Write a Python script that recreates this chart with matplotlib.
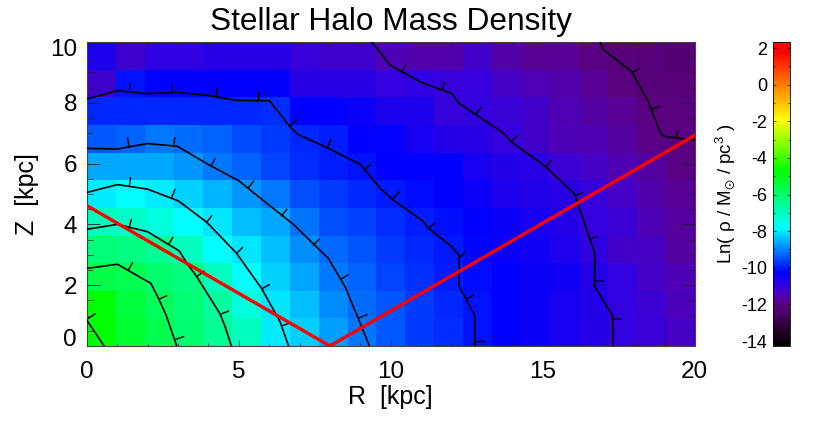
import matplotlib
matplotlib.use("Agg")
import matplotlib.pyplot as plt
import numpy as np
from matplotlib.colors import LinearSegmentedColormap, Normalize
from matplotlib.ticker import MultipleLocator
from matplotlib.transforms import ScaledTranslation

plt.rcParams["font.family"] = ["Liberation Sans", "DejaVu Sans"]
plt.rcParams["axes.unicode_minus"] = False
plt.rcParams["mathtext.fontset"] = "custom"
plt.rcParams["mathtext.rm"] = "Liberation Sans"
plt.rcParams["mathtext.it"] = "Liberation Sans"
plt.rcParams["mathtext.fallback"] = "stixsans"

VMIN = -14.27
VMAX = 2.33

# Ln density on the 1 kpc grid, one row per Z = 0..10, R = 0..20
row_z0 = [-4.7, -5.3, -5.67, -6.04, -6.52, -7.01, -7.95, -8.25, -8.71, -9.1, -9.39, -9.67, -9.82, -10.06, -10.25, -10.4, -10.6, -10.8, -11.0, -11.1, -11.3]
row_z1 = [-4.8, -5.43, -5.79, -6.16, -6.65, -7.37, -8.04, -8.42, -8.9, -9.19, -9.43, -9.67, -9.87, -10.06, -10.25, -10.4, -10.6, -10.75, -11.0, -11.15, -11.4]
row_z2 = [-5.55, -5.67, -6.04, -6.28, -7.01, -7.8, -8.23, -8.66, -9.1, -9.29, -9.58, -9.77, -9.96, -10.15, -10.25, -10.4, -10.5, -10.8, -11.0, -11.3, -11.45]
row_z3 = [-6.16, -6.28, -6.52, -7.01, -7.8, -8.04, -8.42, -8.86, -9.24, -9.43, -9.67, -9.87, -10.01, -10.2, -10.4, -10.5, -10.7, -10.95, -11.25, -11.35, -11.7]
row_z4 = [-7.01, -7.13, -7.37, -7.8, -8.04, -8.42, -8.62, -9.14, -9.48, -9.63, -9.82, -9.96, -10.11, -10.25, -10.4, -10.6, -10.8, -11.0, -11.15, -11.5, -11.7]
row_z5 = [-7.95, -7.8, -7.95, -8.23, -8.52, -8.81, -9.1, -9.48, -9.67, -9.87, -10.01, -10.15, -10.25, -10.46, -10.7, -10.75, -10.85, -11.05, -11.3, -11.6, -11.8]
row_z6 = [-8.62, -8.62, -8.62, -8.81, -9.1, -9.29, -9.58, -9.82, -9.96, -10.06, -10.25, -10.25, -10.25, -10.6, -10.8, -10.85, -11.15, -11.3, -11.5, -11.65, -11.95]
row_z7 = [-9.39, -9.29, -9.1, -9.19, -9.29, -9.53, -9.67, -9.87, -9.96, -10.25, -10.3, -10.6, -10.8, -10.85, -11.05, -11.25, -11.45, -11.5, -11.7, -11.95, -12.0]
row_z8 = [-9.87, -9.87, -9.87, -9.87, -9.87, -9.87, -9.8, -10.25, -10.25, -10.4, -10.65, -10.65, -11.05, -11.0, -11.1, -11.25, -11.5, -11.65, -11.8, -12.0, -12.05]
row_z9 = [-11.2, -10.06, -10.25, -10.25, -10.25, -10.25, -10.25, -10.85, -10.85, -10.85, -11.0, -10.95, -11.05, -11.05, -11.3, -11.5, -11.6, -11.8, -12.05, -12.1, -12.15]
row_z10 = [-10.65, -11.2, -10.95, -10.95, -10.85, -10.85, -10.85, -11.05, -11.2, -11.2, -11.45, -11.55, -11.55, -11.25, -11.6, -11.8, -11.8, -12.0, -12.1, -12.15, -12.2]

# contour lines and the points where their downhill ticks sit
c1_r = [0, 0.57]
c1_z = [0.855, 0]
c1_ticks = [(0.05, 0.91)]
c2_r = [0, 1.01, 2.11, 2.36, 2.61, 2.96]
c2_z = [2.55, 2.69, 2.06, 1.57, 1.02, 0]
c2_ticks = [(1.37, 2.5), (2.38, 1.54), (2.93, 0.22)]
c3_r = [0, 1.01, 2.0, 3.04, 3.34, 3.62, 4.39, 4.55, 4.76]
c3_z = [3.84, 4.0, 3.76, 3.13, 2.66, 2.28, 1.05, 0.64, 0]
c3_ticks = [(1.4, 3.89), (2.69, 3.34), (3.64, 2.3), (4.41, 1.05)]
c4_r = [0, 1.01, 2.0, 3.02, 3.95, 4.93, 5.76, 6.36, 6.64]
c4_z = [5.05, 5.31, 5.16, 4.77, 4.07, 3.05, 1.88, 0.8, 0]
c4_ticks = [(1.4, 5.26), (2.8, 4.89), (3.95, 4.07), (4.93, 3.05), (5.76, 1.88), (6.41, 0.66)]
c5_r = [0, 1.01, 2.0, 2.98, 3.95, 5.01, 5.79, 6.8, 7.95, 8.5, 8.91, 9.3]
c5_z = [6.5, 6.48, 6.66, 6.57, 6.0, 5.43, 4.8, 4.0, 2.88, 1.95, 0.96, 0]
c5_ticks = [(1.39, 6.58), (2.87, 6.58), (4.09, 5.92), (5.32, 5.21), (6.41, 4.28), (7.46, 3.32), (8.36, 2.2), (8.97, 0.93)]
c6_r = [0, 1.01, 1.95, 2.96, 3.95, 4.93, 6.01, 6.69, 6.93, 7.95, 8.99, 9.65, 10.09, 11.04, 11.25, 12.0, 12.25, 12.25, 12.77, 12.77]
c6_z = [8.13, 8.4, 8.3, 8.34, 8.25, 8.08, 8.07, 7.21, 6.97, 6.5, 5.98, 5.19, 4.8, 4.12, 3.87, 3.27, 2.99, 1.97, 0.99, 0]
c6_ticks = [(1.4, 8.36), (2.81, 8.34), (4.24, 8.2), (5.65, 8.07), (6.71, 7.25), (7.92, 6.54), (9.12, 5.79), (10.09, 4.86), (11.25, 3.87), (12.26, 2.91), (12.5, 1.55), (12.8, 0.16)]
c7_r = [9.38, 9.98, 11.02, 12.0, 12.25, 13.71, 13.98, 15.07, 16.05, 16.17, 16.72, 16.7, 17.3, 17.32]
c7_z = [10.0, 9.24, 8.66, 8.31, 7.98, 7.0, 6.7, 5.92, 5.0, 4.64, 3.02, 1.97, 0.99, 0]
c7_ticks = [(10.36, 9.0), (11.68, 8.42), (12.81, 7.62), (13.98, 6.74), (15.1, 5.9), (16.06, 4.95), (16.54, 3.52), (16.72, 2.14), (17.3, 0.88)]
c8_r = [16.89, 16.97, 17.93, 18.47, 18.88, 19.02, 19.74, 20.0]
c8_z = [10.0, 9.77, 9.02, 8.04, 7.0, 6.89, 6.8, 6.78]
c8_ticks = [(17.95, 9.0), (18.58, 7.79), (19.41, 6.83)]

# red wedge
wedge_r = [0, 8, 20]
wedge_z = [4.62, 0, 6.93]

# colour table
cmap_values = [-14.27, -13.3, -12.5, -12.0, -11.5, -11.0, -10.25, -7.8, -4.7, -1.9, 1.8, 2.33]
cmap_colors = ["#000000", "#28002d", "#4b0064", "#5a0082", "#5000b4", "#3200e1", "#0000ff", "#00ffff", "#00ff00", "#ffff00", "#ff0000", "#ff0000"]


def add_contour(ax, r, z, ticks, tick_len=0.27):
    ax.plot(r, z, color="black", lw=1.2, zorder=3)
    r = np.array(r, dtype=float)
    z = np.array(z, dtype=float)
    for tr, tz in ticks:
        # nearest segment gives the direction of the tick
        mid_r = (r[:-1] + r[1:]) / 2
        mid_z = (z[:-1] + z[1:]) / 2
        i = np.argmin((mid_r - tr) ** 2 + (mid_z - tz) ** 2)
        dr, dz = r[i + 1] - r[i], z[i + 1] - z[i]
        norm = np.hypot(dr, dz)
        nr, nz = -dz / norm, dr / norm
        if nr * tr + nz * tz < 0:
            nr, nz = -nr, -nz
        ax.plot([tr, tr + nr * tick_len], [tz, tz + nz * tick_len], color="black", lw=1.0, zorder=3)


def main():
    grid = np.array([row_z0, row_z1, row_z2, row_z3, row_z4, row_z5, row_z6, row_z7, row_z8, row_z9, row_z10])

    positions = [(v - VMIN) / (VMAX - VMIN) for v in cmap_values]
    cmap = LinearSegmentedColormap.from_list("halo", list(zip(positions, cmap_colors)), N=512)
    norm = Normalize(VMIN, VMAX)

    fig = plt.figure(figsize=(8.3, 4.26), dpi=100)
    ax = fig.add_axes([86.7 / 830, 80 / 426, 608 / 830, 304 / 426])
    im = ax.imshow(grid, origin="lower", extent=[0, 20, 0, 10], cmap=cmap, norm=norm,
                   aspect="auto", interpolation="nearest")

    add_contour(ax, c1_r, c1_z, c1_ticks)
    add_contour(ax, c2_r, c2_z, c2_ticks)
    add_contour(ax, c3_r, c3_z, c3_ticks)
    add_contour(ax, c4_r, c4_z, c4_ticks)
    add_contour(ax, c5_r, c5_z, c5_ticks)
    add_contour(ax, c6_r, c6_z, c6_ticks)
    add_contour(ax, c7_r, c7_z, c7_ticks)
    add_contour(ax, c8_r, c8_z, c8_ticks)
    ax.plot(wedge_r, wedge_z, color="#ff0000", lw=2.4, zorder=4)

    ax.set_xlim(0, 20)
    ax.set_ylim(0, 10)
    ax.set_xticks(np.arange(0, 21, 5))
    ax.set_yticks(np.arange(0, 11, 2))
    ax.xaxis.set_minor_locator(MultipleLocator(1))
    ax.yaxis.set_minor_locator(MultipleLocator(0.5))
    ax.tick_params(axis="x", which="major", direction="in", top=True, length=4.5, width=0.6, labelsize=17.5, pad=11, color="#222222")
    ax.tick_params(axis="x", which="minor", direction="in", top=True, length=2.2, width=0.5, color="#222222")
    ax.tick_params(axis="y", which="major", direction="in", right=True, length=9, width=0.6, labelsize=17.5, pad=7, color="#222222")
    ax.tick_params(axis="y", which="minor", direction="in", right=True, length=4.5, width=0.5, color="#222222")
    for spine in ax.spines.values():
        spine.set_linewidth(0.8)
        spine.set_color("#444444")
    labels = ax.get_yticklabels()
    labels[0].set_verticalalignment("baseline")
    labels[-1].set_verticalalignment("top")
    labels[-1].set_transform(labels[-1].get_transform() + ScaledTranslation(0, 2 / 72, fig.dpi_scale_trans))

    ax.set_title("Stellar Halo Mass Density", fontsize=22.8, pad=9)
    ax.set_xlabel("R  [kpc]", fontsize=18, labelpad=1)
    ax.set_ylabel("Z  [kpc]", fontsize=18, labelpad=8)

    cax = fig.add_axes([773 / 830, 80 / 426, 17 / 830, 304 / 426])
    cbar = fig.colorbar(im, cax=cax)
    cbar.outline.set_linewidth(0.6)
    cbar.set_ticks(np.arange(-14, 3, 2))
    cax.yaxis.set_minor_locator(MultipleLocator(1))
    cax.yaxis.set_ticks_position("both")
    cax.yaxis.set_label_position("left")
    cax.tick_params(axis="y", which="major", direction="in", left=True, right=True, labelleft=True, labelright=False,
                    length=2.5, width=0.5, labelsize=13, pad=4)
    cax.tick_params(axis="y", which="minor", direction="in", left=True, right=True, length=1.2, width=0.4)
    cax.set_ylabel(r"Ln( $\rho$ / M$_{\odot}$ / pc$^{3}$ )", fontsize=13.5, labelpad=3)

    fig.savefig("out.png", dpi=100)
    plt.close(fig)


if __name__ == "__main__":
    main()
